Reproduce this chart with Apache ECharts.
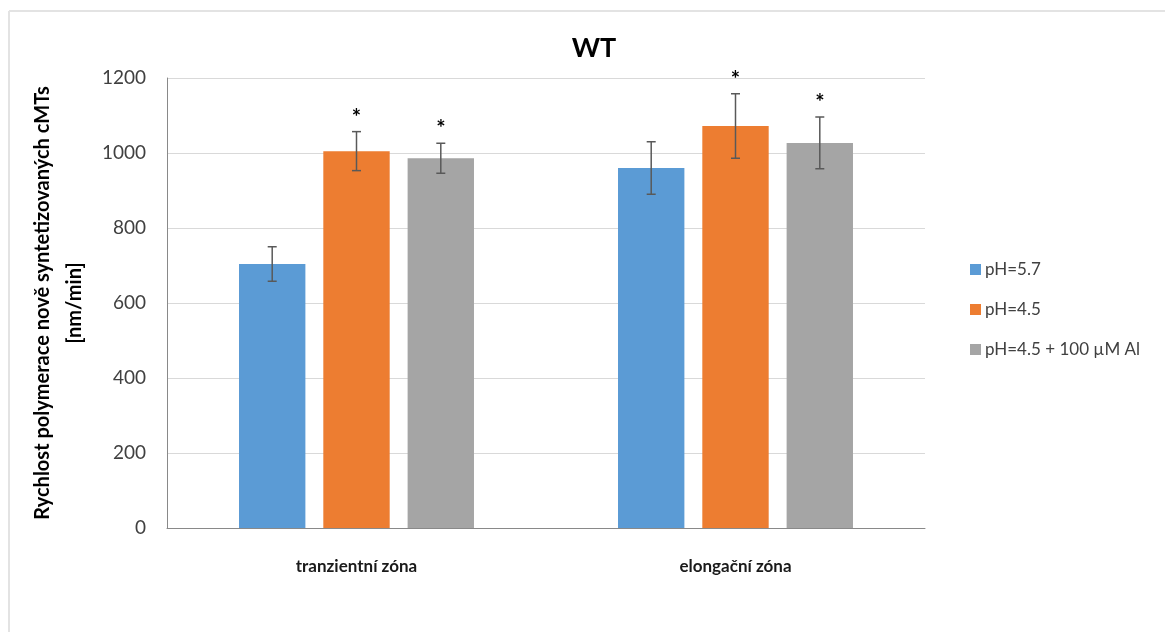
<!DOCTYPE html>
<html><head><meta charset="utf-8">
<script src="https://cdn.jsdelivr.net/npm/echarts@6/dist/echarts.min.js"></script>
<style>html,body{margin:0;padding:0;background:#fff}#c{width:1165px;height:632px}</style>
</head><body><div id="c"></div>
<script>
const categories = ['tranzientní zóna', 'elongační zóna'];
const seriesNames = ['pH=5.7', 'pH=4.5', 'pH=4.5 + 100 µM Al'];
const colors = ['#5B9BD5', '#ED7D31', '#A5A5A5'];
const valuesPH57 = [704, 960];
const valuesPH45 = [1005, 1072];
const valuesPH45Al = [986, 1027];
const errPH57 = [46, 70];
const errPH45 = [52, 86];
const errPH45Al = [40, 69];
const sigPH57 = ['', ''];
const sigPH45 = ['*', '*'];
const sigPH45Al = ['*', '*'];
const yTicks = [0, 200, 400, 600, 800, 1000, 1200];

const values = [valuesPH57, valuesPH45, valuesPH45Al];
const errs = [errPH57, errPH45, errPH45Al];
const sigs = [sigPH57, sigPH45, sigPH45Al];
const CAT_GAP = 0.38, BAR_GAP = 0.27;
const font = 'Lato, "Liberation Sans", sans-serif';

const errData = [];
values.forEach((vals, s) => vals.forEach((v, c) => {
  errData.push([c, v - errs[s][c], v + errs[s][c], s, sigs[s][c]]);
}));

const chart = echarts.init(document.getElementById('c'), null, {renderer: 'canvas'});
chart.setOption({
  backgroundColor: '#fff',
  animation: false,
  title: {text: 'WT', left: 589, textAlign: 'center', top: 30,
    textStyle: {fontFamily: font, fontWeight: 'bold', fontSize: 27, color: '#000'}},
  legend: {
    orient: 'vertical', left: 965, top: 256, itemGap: 23,
    itemWidth: 11, itemHeight: 11, icon: 'rect',
    data: seriesNames,
    textStyle: {fontFamily: font, fontSize: 17, color: '#404040', padding: [0, 0, 0, -1]}
  },
  grid: {left: 167, right: 240, top: 78, bottom: 104},
  xAxis: {
    type: 'category', data: categories,
    axisLine: {lineStyle: {color: '#898989', width: 1}},
    axisTick: {show: false},
    axisLabel: {fontFamily: font, fontWeight: 'bold', fontSize: 17, color: '#1a1a1a', margin: 30}
  },
  yAxis: {
    type: 'value', min: yTicks[0], max: yTicks[yTicks.length - 1], interval: 200,
    name: 'Rychlost polymerace nově syntetizovaných cMTs\n[nm/min]',
    nameLocation: 'middle', nameGap: 67, nameRotate: 90,
    nameTextStyle: {fontFamily: font, fontWeight: 'bold', fontSize: 20, color: '#000', lineHeight: 32},
    axisLine: {show: true, lineStyle: {color: '#898989', width: 1}},
    axisTick: {show: false},
    axisLabel: {fontFamily: font, fontSize: 19, color: '#404040', margin: 21,
      formatter: v => String(v)},
    splitLine: {lineStyle: {color: '#d9d9d9', width: 1}}
  },
  graphic: [
    {type: 'line', shape: {x1: 9, y1: 11, x2: 1165, y2: 11}, style: {stroke: '#e3e3e3', lineWidth: 2}},
    {type: 'line', shape: {x1: 9, y1: 11, x2: 9, y2: 632}, style: {stroke: '#e3e3e3', lineWidth: 2}}
  ],
  series: values.map((vals, s) => ({
    name: seriesNames[s], type: 'bar', data: vals,
    itemStyle: {color: colors[s]},
    barCategoryGap: (CAT_GAP * 100) + '%', barGap: (BAR_GAP * 100) + '%'
  })).concat([{
    type: 'custom', name: 'err', data: errData, z: 10,
    encode: {x: 0, y: [1, 2]},
    renderItem: function (params, api) {
      const c = api.value(0), lo = api.value(1), hi = api.value(2), s = api.value(3);
      const sig = errData[params.dataIndex][4];
      const band = api.size([1, 0])[0];
      const bw = band * (1 - CAT_GAP) / (3 + 2 * BAR_GAP);
      const off = (s - 1) * bw * (1 + BAR_GAP);
      const pLo = api.coord([c, lo]), pHi = api.coord([c, hi]);
      const x = pLo[0] + off, cap = 4.5;
      const st = {stroke: '#595959', lineWidth: 1.5};
      const children = [
        {type: 'line', shape: {x1: x, y1: pLo[1], x2: x, y2: pHi[1]}, style: st},
        {type: 'line', shape: {x1: x - cap, y1: pLo[1], x2: x + cap, y2: pLo[1]}, style: st},
        {type: 'line', shape: {x1: x - cap, y1: pHi[1], x2: x + cap, y2: pHi[1]}, style: st}
      ];
      if (sig) children.push({type: 'text', x: x, y: pHi[1] - 3,
        style: {text: sig, fontFamily: font, fontSize: 22, fontWeight: 'bold', fill: '#000',
          textAlign: 'center', textVerticalAlign: 'bottom'}});
      return {type: 'group', children: children};
    }
  }])
});
</script></body></html>
